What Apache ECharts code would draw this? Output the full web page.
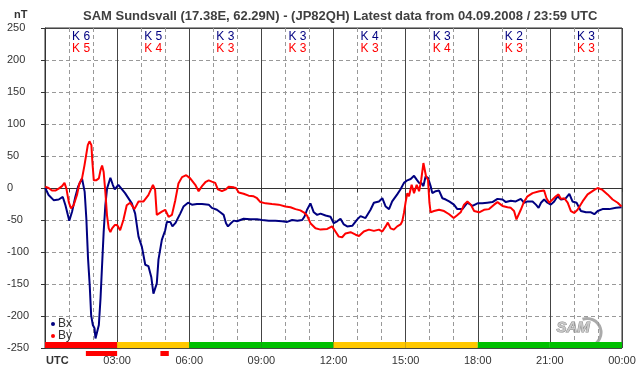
<!DOCTYPE html>
<html>
<head>
<meta charset="utf-8">
<script src="https://cdn.jsdelivr.net/npm/echarts@6/dist/echarts.min.js"></script>
<style>
  html, body { margin: 0; padding: 0; background: #fff; }
  #chart { width: 642px; height: 376px; }
</style>
</head>
<body>
<div id="chart"></div>
<script>

// magnetometer samples: [hour UTC, nT]
var bxData = [
    [0.01,0],[0.15,-11],[0.36,-19],[0.57,-18],[0.74,-14],[0.85,-27],[1.01,-51],[1.125,-37],[1.26,-14],[1.375,2],
    [1.54,15],[1.65,-6],[1.72,-48],[1.79,-110],[1.86,-152],[1.92,-199],[1.99,-214],[2.06,-219],[2.1,-235],[2.18,-238],
    [2.24,-214],[2.31,-172],[2.375,-120],[2.44,-69],[2.51,-27],[2.58,-1],[2.72,16],[2.82,5],[2.9,-2],[3.05,5],
    [3.33,-8],[3.61,-24],[3.75,-40],[3.89,-76],[4.03,-92],[4.17,-120],[4.3,-122],[4.42,-139],[4.51,-165],[4.58,-167],
    [4.65,-149],[4.72,-112],[4.86,-81],[5.0,-66],[5.07,-53],[5.21,-53],[5.3,-60],[5.42,-55],[5.625,-40],[5.76,-29],
    [5.95,-23],[6.11,-26],[6.32,-25],[6.53,-25],[6.81,-26],[6.94,-31],[7.15,-34],[7.29,-38],[7.43,-42],[7.53,-55],
    [7.61,-60],[7.71,-56],[7.85,-51],[7.99,-52],[8.26,-48],[8.54,-49],[8.82,-49],[9.03,-50],[9.31,-51],[9.58,-51],
    [9.86,-52],[10.07,-53],[10.28,-50],[10.5,-51],[10.7,-50],[10.8,-44],[10.9,-34],[11.04,-24],[11.18,-38],[11.32,-42],
    [11.46,-40],[11.67,-43],[11.875,-45],[12.01,-55],[12.15,-52],[12.29,-48],[12.43,-57],[12.57,-60],[12.78,-59],[12.99,-49],
    [13.125,-44],[13.33,-47],[13.54,-34],[13.68,-23],[13.89,-21],[14.03,-16],[14.17,-29],[14.31,-33],[14.44,-21],[14.65,-10],
    [14.79,-2],[14.93,8],[15.07,12],[15.21,14],[15.35,19],[15.46,13],[15.56,8],[15.65,8],[15.74,3],[15.83,18],
    [15.93,16],[16.04,3],[16.11,-8],[16.25,-5],[16.39,-4],[16.53,-16],[16.67,-18],[16.81,-21],[17.01,-26],[17.15,-33],
    [17.36,-33],[17.57,-23],[17.78,-28],[17.99,-24],[18.19,-24],[18.4,-23],[18.61,-22],[18.82,-17],[19.03,-18],[19.17,-22],
    [19.375,-20],[19.58,-21],[19.79,-17],[19.93,-23],[20.07,-21],[20.28,-21],[20.42,-26],[20.53,-31],[20.63,-23],[20.76,-18],
    [20.9,-23],[21.04,-26],[21.18,-21],[21.32,-13],[21.46,-18],[21.64,-17],[21.81,-9],[21.94,-21],[22.11,-23],[22.29,-36],
    [22.5,-38],[22.71,-38],[22.85,-41],[22.99,-36],[23.19,-33],[23.47,-33],[23.75,-31],[23.98,-30]
];

var byData = [
    [0.01,2],[0.15,0],[0.29,-4],[0.43,-4],[0.57,-1],[0.71,3],[0.81,8],[0.89,-1],[0.99,-22],[1.08,-32],
    [1.19,-27],[1.33,-11],[1.43,7],[1.54,15],[1.64,35],[1.71,51],[1.78,67],[1.85,73],[1.93,67],[1.97,41],
    [2.03,12],[2.125,12],[2.24,15],[2.31,28],[2.375,35],[2.44,25],[2.51,-6],[2.58,-43],[2.65,-63],[2.72,-69],
    [2.79,-63],[2.9,-58],[3.0,-58],[3.125,-66],[3.26,-50],[3.4,-27],[3.54,-23],[3.72,-33],[3.89,-21],[4.1,-21],
    [4.3,-11],[4.49,5],[4.58,-3],[4.65,-42],[4.86,-37],[5.0,-34],[5.14,-45],[5.28,-42],[5.42,-19],[5.55,7],
    [5.7,17],[5.875,20],[6.04,15],[6.25,5],[6.39,-5],[6.53,3],[6.67,9],[6.81,12],[6.94,10],[7.08,8],
    [7.19,-2],[7.36,-5],[7.53,-2],[7.64,2],[7.85,1],[7.94,0],[8.06,-7],[8.26,-9],[8.47,-12],[8.68,-13],
    [8.82,-16],[8.96,-22],[9.17,-24],[9.44,-25],[9.72,-26],[10.0,-29],[10.21,-30],[10.42,-33],[10.62,-35],[10.76,-38],
    [10.9,-43],[11.04,-55],[11.25,-63],[11.46,-65],[11.74,-64],[11.94,-60],[12.08,-68],[12.22,-76],[12.36,-77],[12.5,-71],
    [12.71,-69],[12.92,-73],[13.06,-75],[13.26,-68],[13.47,-65],[13.68,-67],[13.89,-65],[14.03,-68],[14.17,-60],[14.26,-54],
    [14.375,-63],[14.51,-65],[14.65,-60],[14.79,-57],[14.86,-52],[14.93,-39],[15.0,-22],[15.07,-8],[15.14,-13],[15.25,5],
    [15.35,-8],[15.46,5],[15.56,-5],[15.65,13],[15.74,39],[15.79,40],[15.85,18],[15.93,13],[15.99,-23],[16.04,-38],
    [16.18,-36],[16.39,-34],[16.6,-36],[16.81,-41],[17.0,-47],[17.13,-43],[17.29,-38],[17.43,-26],[17.57,-21],[17.71,-26],
    [17.85,-36],[18.06,-38],[18.26,-34],[18.47,-33],[18.68,-26],[18.82,-22],[19.03,-28],[19.24,-30],[19.375,-31],[19.51,-36],
    [19.61,-49],[19.69,-52],[19.79,-34],[19.93,-21],[20.07,-13],[20.28,-8],[20.56,-5],[20.76,-4],[20.86,-16],[20.97,-23],
    [21.11,-18],[21.25,-13],[21.36,-10],[21.46,-17],[21.6,-16],[21.74,-23],[21.875,-36],[22.01,-39],[22.15,-34],[22.36,-21],
    [22.57,-10],[22.85,-3],[22.99,0],[23.19,-3],[23.4,-10],[23.61,-18],[23.82,-23],[23.98,-29]
];

// 3-hour K indices (Bx blue, By red) and activity band colour per interval
var kBx = [6, 5, 3, 3, 4, 3, 2, 3];
var kBy = [5, 4, 3, 3, 3, 4, 3, 3];
var bandColors = ['#ff0000', '#ffc800', '#00c000', '#00c000', '#ffc800', '#ffc800', '#00c000', '#00c000'];

// red marks under the axis: [start hour, end hour]
var alertSpans = [[1.7, 3.0], [4.8, 5.15]];

var FONT = 'Liberation Sans, Arial, sans-serif';

var kItems = kBx.map(function (k, i) { return [i * 3, i * 3 + 3, k, kBy[i]]; });
var bandItems = bandColors.map(function (c, i) { return [i * 3, i * 3 + 3, i]; });

var chart = echarts.init(document.getElementById('chart'), null, { renderer: 'canvas' });

var option = {
    animation: false,
    backgroundColor: '#fff',
    title: {
        text: 'SAM Sundsvall (17.38E, 62.29N) - (JP82QH) Latest data from 04.09.2008 / 23:59 UTC',
        left: 78,
        top: 5,
        textStyle: { fontFamily: FONT, fontSize: 13, fontWeight: 'bold', color: '#404040' }
    },
    grid: {
        left: 45, right: 20, top: 28, bottom: 28,
        show: true, borderColor: '#333', borderWidth: 1
    },
    legend: {
        data: ['Bx', 'By'],
        orient: 'vertical',
        left: 46,
        top: 313,
        icon: 'circle',
        itemWidth: 4,
        itemHeight: 4,
        itemGap: 0,
        textStyle: { fontFamily: FONT, fontSize: 12, color: '#333', padding: [0, 0, 0, -2] }
    },
    xAxis: [
        {   // hourly ticks + dashed grid
            type: 'value', min: 0, max: 24, interval: 1, position: 'bottom',
            axisLine: { lineStyle: { color: '#333' } },
            axisTick: { length: 4, lineStyle: { color: '#333' } },
            axisLabel: { show: false },
            splitLine: { lineStyle: { color: '#999', type: [4, 3] } }
        },
        {   // 3-hour solid lines + labels
            type: 'value', min: 0, max: 24, interval: 3, position: 'bottom',
            axisLine: { show: false },
            axisTick: { show: false },
            axisLabel: {
                margin: 7,
                fontFamily: FONT, fontSize: 11, color: '#333',
                formatter: function (v) {
                    if (v === 0) return '';
                    var h = v % 24;
                    return (h < 10 ? '0' : '') + h + ':00';
                }
            },
            splitLine: { lineStyle: { color: '#444', width: 1 } }
        }
    ],
    yAxis: [
        {
            type: 'value', min: -250, max: 250, interval: 50,
            axisLine: { show: true, lineStyle: { color: '#333' } },
            axisTick: { show: true, length: 4, lineStyle: { color: '#333' } },
            axisLabel: { align: 'left', margin: 38, fontFamily: FONT, fontSize: 11, color: '#333' },
            splitLine: { lineStyle: { color: '#999', type: [4, 3] } }
        },
        {   // solid zero line
            type: 'value', min: -250, max: 250, interval: 250, position: 'left',
            axisLine: { show: false }, axisTick: { show: false }, axisLabel: { show: false },
            splitLine: { lineStyle: { color: '#444', width: 1 } }
        }
    ],
    series: [
        {
            name: 'band', type: 'custom', data: bandItems, silent: true, z: 1,
            renderItem: function (params, api) {
                var a = api.coord([api.value(0), -250]);
                var b = api.coord([api.value(1), -250]);
                return {
                    type: 'rect',
                    shape: { x: a[0], y: a[1] - 6, width: b[0] - a[0], height: 6 },
                    style: { fill: bandColors[api.value(2)] }
                };
            }
        },
        {
            name: 'alerts', type: 'custom', data: alertSpans, silent: true, clip: false,
            renderItem: function (params, api) {
                var a = api.coord([api.value(0), -250]);
                var b = api.coord([api.value(1), -250]);
                return {
                    type: 'rect',
                    shape: { x: a[0], y: a[1] + 3, width: b[0] - a[0], height: 5 },
                    style: { fill: '#ff0000' }
                };
            }
        },
        {
            name: 'kindex', type: 'custom', data: kItems, silent: true,
            renderItem: function (params, api) {
                var mid = (api.value(0) + api.value(1)) / 2;
                var p = api.coord([mid, 250]);
                return {
                    type: 'group',
                    children: [
                        { type: 'text', style: { x: p[0], y: p[1] + 3, text: 'K ' + api.value(2), fill: '#000080',
                            font: '12px ' + FONT, align: 'center', verticalAlign: 'top' } },
                        { type: 'text', style: { x: p[0], y: p[1] + 15, text: 'K ' + api.value(3), fill: '#ff0000',
                            font: '12px ' + FONT, align: 'center', verticalAlign: 'top' } }
                    ]
                };
            }
        },
        {
            name: 'Bx', type: 'line', data: bxData, showSymbol: false, z: 3,
            itemStyle: { color: '#000080' },
            lineStyle: { color: '#000080', width: 2 }
        },
        {
            name: 'By', type: 'line', data: byData, showSymbol: false, z: 4,
            itemStyle: { color: '#ff0000' },
            lineStyle: { color: '#ff0000', width: 2 }
        }
    ],
    graphic: [
        { type: 'text', left: 14, top: 9,
          style: { text: 'nT', font: 'bold 11px ' + FONT, fill: '#333' } },
        { type: 'text', left: 46, top: 355,
          style: { text: 'UTC', font: 'bold 11px ' + FONT, fill: '#333' } },
        { type: 'arc', left: 580, top: 316, z: 0,
          shape: { cx: 0, cy: 0, r: 14, startAngle: -1.9, endAngle: 1.4 },
          style: { stroke: '#aaa', lineWidth: 3, fill: null } },
        { type: 'text', left: 556, top: 320,
          style: { text: 'SAM', font: 'italic bold 15px ' + FONT, fill: '#c8c8c8', stroke: '#888', lineWidth: 1 } }
    ]
};

chart.setOption(option);
</script>
</body>
</html>
